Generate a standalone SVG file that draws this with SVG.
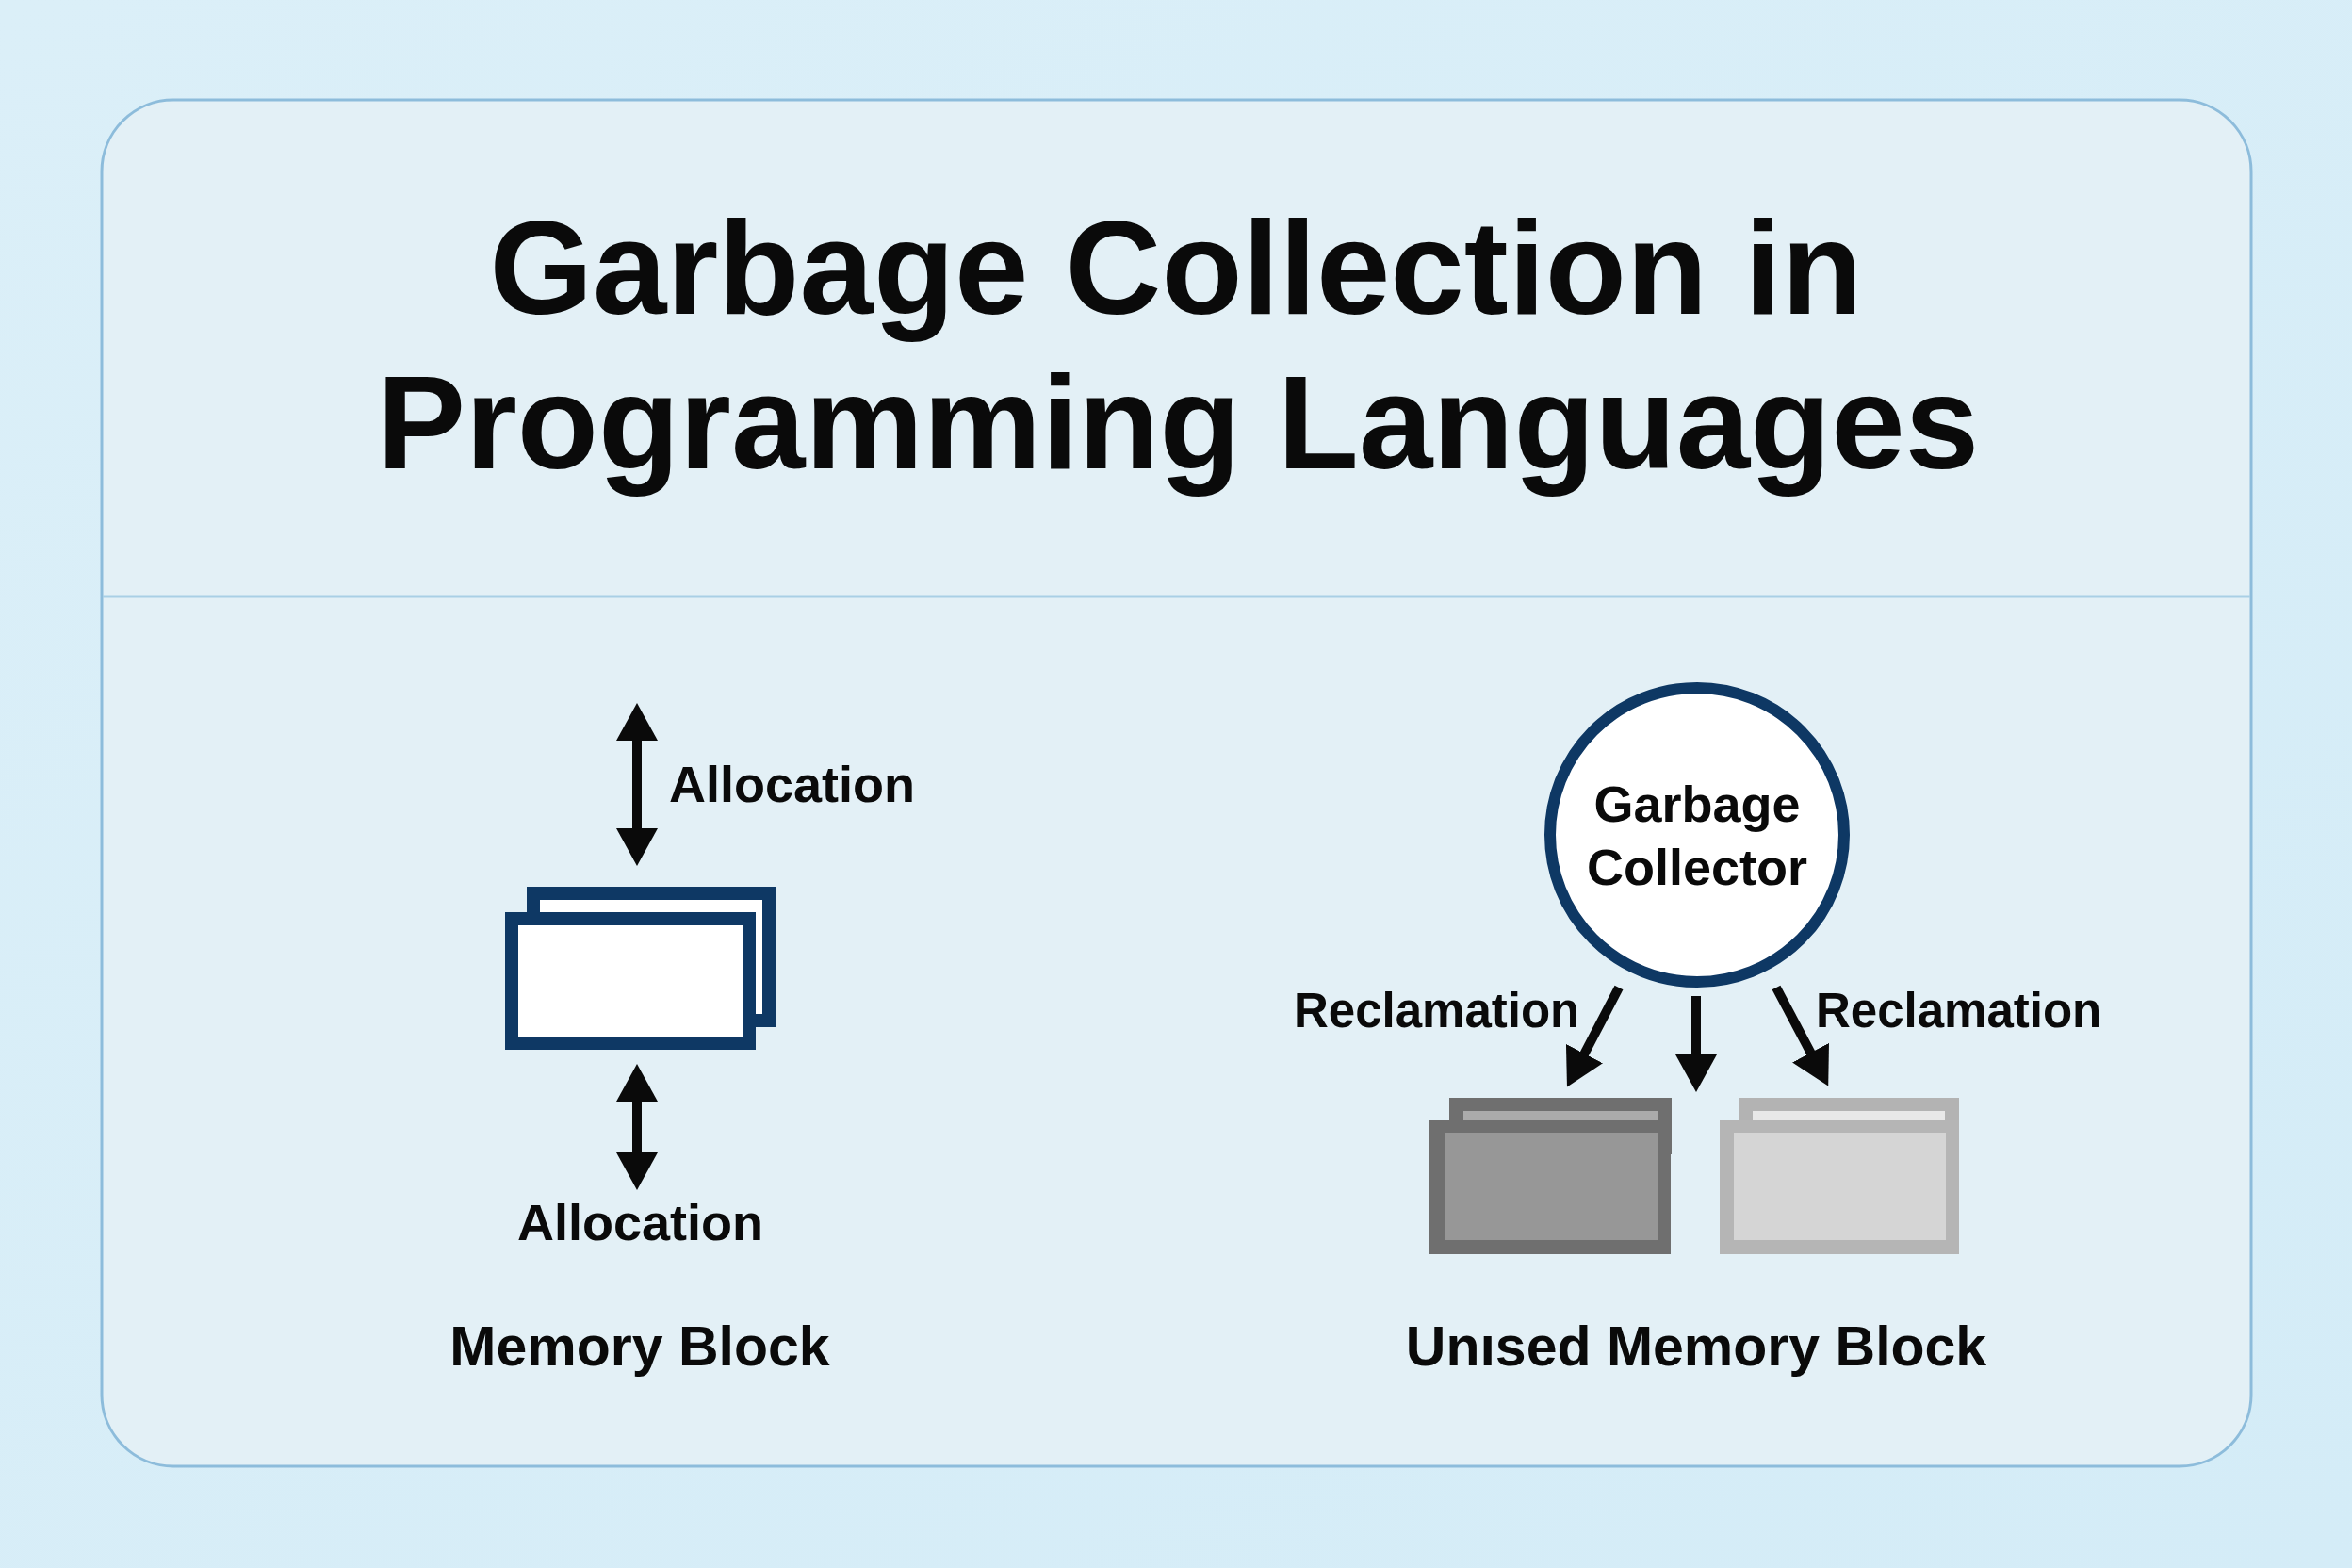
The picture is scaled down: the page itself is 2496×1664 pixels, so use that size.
<svg xmlns="http://www.w3.org/2000/svg" width="2496" height="1664" viewBox="0 0 2496 1664">
  <style>
    .t{font-family:"Liberation Sans",Arial,sans-serif;font-weight:700;fill:#0a0a0a;}
    .title{font-size:141px;text-anchor:middle;}
    .lbl{font-size:54px;}
    .rec{font-size:51px;}
    .gc{font-size:54px;text-anchor:middle;}
    .cap{font-size:59px;text-anchor:middle;}
    .shaft{stroke:#0a0a0a;stroke-width:10;fill:none;}
    .navy{fill:#fff;stroke:#0e3864;stroke-width:14;}
  </style>
  <defs>
    <linearGradient id="bg" x1="0" y1="0" x2="1" y2="1">
      <stop offset="0" stop-color="#dbeff8"/>
      <stop offset="1" stop-color="#d4ecf7"/>
    </linearGradient>
    <marker id="ah" markerUnits="userSpaceOnUse" markerWidth="40" markerHeight="44" viewBox="0 0 40 44" refX="1" refY="22" orient="auto-start-reverse">
      <path d="M0,0 L40,22 L0,44 z" fill="#0a0a0a"/>
    </marker>
  </defs>
  <rect x="0" y="0" width="2496" height="1664" fill="url(#bg)"/>
  <g id="panel">
    <rect x="108" y="106" width="2281" height="1450" rx="76" ry="76" fill="#e3f0f6" stroke="#8dbcdb" stroke-width="3"/>
    <line x1="109" y1="633" x2="2388" y2="633" stroke="#a9cfe5" stroke-width="3"/>
  </g>
  <g id="title">
    <text class="t title" x="1248" y="333">Garbage Collection in</text>
    <text class="t title" x="1250" y="497">Programming Languages</text>
  </g>
  <g id="memory-block">
    <rect class="navy" x="566" y="948" width="250" height="135"/>
    <rect class="navy" x="543" y="975" width="252" height="132"/>
  </g>
  <g id="memory-block-label">
    <text class="t cap" x="679" y="1449">Memory Block</text>
  </g>
  <g id="allocation-top">
    <text class="t lbl" x="710" y="851">Allocation</text>
  </g>
  <g id="allocation-bottom">
    <text class="t lbl" x="549" y="1316">Allocation</text>
  </g>
  <g id="garbage-collector">
    <circle cx="1801" cy="886" r="156" fill="#fff" stroke="#0e3864" stroke-width="12"/>
    <text class="t gc" x="1801" y="872">Garbage</text>
    <text class="t gc" x="1801" y="939">Collector</text>
  </g>
  <g id="reclamation-left">
    <text class="t rec" x="1373" y="1090">Reclamation</text>
  </g>
  <g id="reclamation-right">
    <text class="t rec" x="1927" y="1090">Reclamation</text>
  </g>
  <g id="unused-block-dark">
    <rect x="1538" y="1165" width="236" height="60" fill="#6f6f6f"/>
    <rect x="1553" y="1179" width="207" height="10" fill="#ababab"/>
    <rect x="1517" y="1189" width="256" height="142" fill="#6f6f6f"/>
    <rect x="1533" y="1202" width="226" height="114" fill="#979797"/>
  </g>
  <g id="unused-block-light">
    <rect x="1846" y="1165" width="233" height="60" fill="#b3b3b3"/>
    <rect x="1860" y="1179" width="204" height="10" fill="#e8e8e8"/>
    <rect x="1825" y="1189" width="254" height="142" fill="#b5b5b5"/>
    <rect x="1840" y="1202" width="225" height="114" fill="#d5d5d5"/>
  </g>
  <g id="unused-block-label">
    <text class="t cap" x="1800" y="1449">Unısed Memory Block</text>
  </g>
  <g id="connectors">
    <line class="shaft" x1="676" y1="785" x2="676" y2="880" marker-start="url(#ah)" marker-end="url(#ah)"/>
    <line class="shaft" x1="676" y1="1168" x2="676" y2="1224" marker-start="url(#ah)" marker-end="url(#ah)"/>
    <line class="shaft" x1="1718" y1="1048" x2="1681" y2="1119" marker-end="url(#ah)"/>
    <line class="shaft" x1="1800" y1="1057" x2="1800" y2="1120" marker-end="url(#ah)"/>
    <line class="shaft" x1="1885" y1="1048" x2="1922" y2="1118" marker-end="url(#ah)"/>
  </g>
</svg>
